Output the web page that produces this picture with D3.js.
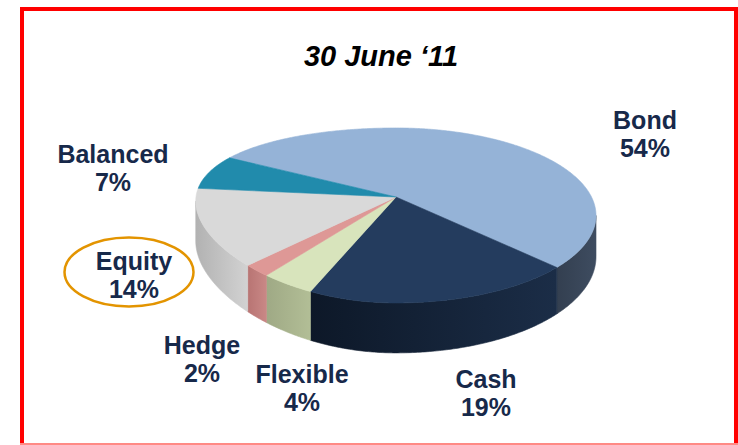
<!DOCTYPE html>
<html>
<head>
<meta charset="utf-8">
<script src="https://cdn.jsdelivr.net/npm/d3@7"></script>
<style>
  html, body { margin: 0; padding: 0; background: #fff; }
  svg { display: block; }
</style>
</head>
<body>
<svg id="chart" width="738" height="445"></svg>
<script>
// ---- data ----
const title = "30 June \u201811";
const categories = ["Bond", "Cash", "Flexible", "Hedge", "Equity", "Balanced"];
const values = [54, 19, 4, 2, 14, 7];
const topColors = ["#95B3D7", "#243C5E", "#D8E4BC", "#DE9896", "#D9D9D9", "#218BAC"];
const sideColorsA = ["#3E4C60", "#1B2D47", "#B2BE96", "#C98886", "#D2D2D2", "#1A6E88"];
const sideColorsB = ["#333F50", "#0D1828", "#9FA985", "#B87473", "#B2B2B2", "#145A70"];

// ---- geometry ----
const svg = d3.select("#chart");
const cx = 396, cy = 197;      // projected centre of top face
const sy = 83.6;               // vertical radius factor
const perspY = 0.211;          // perspective (vertical)
const sxR = 195.5, pxR = 0.211; // right half horizontal scale / perspective
const sxL = 200, pxL = 0.05;    // left half horizontal scale / perspective
const depth = 39.4;            // pie thickness

function project(theta, d) {
  const X = Math.sin(theta), Z = -Math.cos(theta);
  const wy = 1 - perspY * Z;
  const x = X >= 0 ? cx + sxR * X / (1 - pxR * Z) : cx + sxL * X / (1 - pxL * Z);
  return [x, cy + (sy * Z + depth * d) / wy];
}

const start = -58.7 * Math.PI / 180;
const pie = d3.pie().sort(null).value(d => d)
  .startAngle(start).endAngle(start + 2 * Math.PI);
const arcs = pie(values);

function arcPoints(a0, a1, d) {
  const n = Math.max(2, Math.ceil(Math.abs(a1 - a0) / 0.01));
  return d3.range(n + 1).map(i => project(a0 + (a1 - a0) * i / n, d));
}

const line = d3.line();
const defs = svg.append("defs");

// ---- border ----
svg.append("path")
  .attr("d", "M22,445 L22,9 L736,9 L736,445")
  .attr("fill", "none").attr("stroke", "#FF0000").attr("stroke-width", 4);
svg.append("line").attr("x1", 20).attr("x2", 738).attr("y1", 444).attr("y2", 444)
  .attr("stroke", "#FF8A85").attr("stroke-width", 2);

// ---- title ----
svg.append("text")
  .attr("x", 381).attr("y", 66)
  .attr("text-anchor", "middle")
  .attr("font-family", "Liberation Sans, Arial, sans-serif")
  .attr("font-weight", "bold").attr("font-style", "italic")
  .attr("font-size", 29).attr("fill", "#000")
  .text(title);

// ---- side walls (visible front range) ----
const visLo = Math.acos(-pxR), visHi = 2 * Math.PI - Math.acos(-pxL);

const walls = [];
arcs.forEach((a, i) => {
  [0, 2 * Math.PI, -2 * Math.PI].forEach(shift => {
    const s0 = a.startAngle + shift, s1 = a.endAngle + shift;
    const lo = Math.max(s0, visLo), hi = Math.min(s1, visHi);
    if (hi > lo + 1e-4) walls.push({ i, lo, hi });
  });
});

walls.forEach((wl, k) => {
  const p0 = project(wl.lo, 0), p1 = project(wl.hi, 0);
  const gid = "wg" + k;
  const g = defs.append("linearGradient").attr("id", gid)
    .attr("gradientUnits", "userSpaceOnUse")
    .attr("x1", p0[0]).attr("y1", 0).attr("x2", p1[0]).attr("y2", 0);
  g.append("stop").attr("offset", "0%").attr("stop-color", sideColorsA[wl.i]);
  g.append("stop").attr("offset", "100%").attr("stop-color", sideColorsB[wl.i]);
  const top = arcPoints(wl.lo, wl.hi, 0);
  const bot = arcPoints(wl.hi, wl.lo, 1);
  svg.append("path")
    .attr("d", line(top.concat(bot)) + "Z")
    .attr("fill", `url(#${gid})`)
    .attr("stroke", `url(#${gid})`).attr("stroke-width", 0.6);
});

// ---- top faces ----
arcs.forEach((a, i) => {
  const pts = [[cx, cy]].concat(arcPoints(a.startAngle, a.endAngle, 0));
  svg.append("path")
    .attr("d", line(pts) + "Z")
    .attr("fill", topColors[i])
    .attr("stroke", topColors[i]).attr("stroke-width", 0.6);
});

// ---- labels ----
const labelPos = {
  Bond: [645, 129],
  Cash: [486, 388],
  Flexible: [302, 383],
  Hedge: [202, 354],
  Equity: [134, 270],
  Balanced: [113, 163]
};
categories.forEach((c, i) => {
  const [x, y] = labelPos[c];
  const t = svg.append("text")
    .attr("x", x).attr("y", y)
    .attr("text-anchor", "middle")
    .attr("font-family", "Liberation Sans, Arial, sans-serif")
    .attr("font-weight", "bold").attr("font-size", 25)
    .attr("fill", "#17294A");
  t.append("tspan").attr("x", x).attr("dy", 0).text(c);
  t.append("tspan").attr("x", x).attr("dy", 28).text(values[i] + "%");
});

// ---- highlight ellipse around Equity ----
svg.append("ellipse")
  .attr("cx", 129).attr("cy", 272).attr("rx", 64.5).attr("ry", 34.5)
  .attr("fill", "none").attr("stroke", "#E39400").attr("stroke-width", 2.5);
</script>
</body>
</html>
